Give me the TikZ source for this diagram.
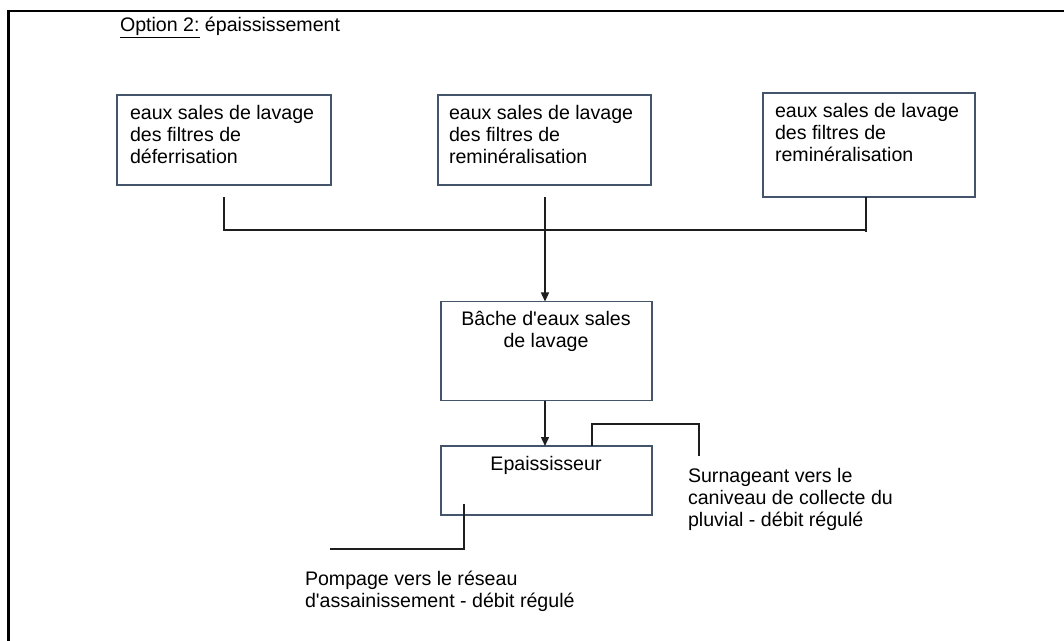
\documentclass[tikz,border=0pt]{standalone}
\usepackage{fontspec}
\setmainfont{Liberation Sans}[Ligatures=TeXOff]
\usetikzlibrary{arrows.meta}
\definecolor{boxline}{RGB}{68,84,106}
\definecolor{conn}{RGB}{30,30,30}
\begin{document}
\begin{tikzpicture}[x=1bp,y=-1bp,
  every node/.style={font=\fontsize{19.6bp}{22bp}\selectfont, inner sep=0pt, outer sep=0pt},
  procbox/.style={draw=boxline, line width=1.3bp, minimum width=#1, rectangle},
  label/.style={anchor=base west, align=left},
  ctext/.style={anchor=base, align=center},
  conline/.style={draw=conn, line width=1.4bp},
  arrowline/.style={conline, -{Triangle[length=9bp,width=8bp]}}]
\useasboundingbox (0,0) rectangle (1064,641);
\fill[white] (0,0) rectangle (1064,641);
% frame
\draw[line width=2.2bp] (8.5,645) -- (8.5,11) -- (1070,11);
% title
\node[label] (title) at (120,32) {\underline{Option 2:} épaississement};
% boxes
\node[procbox=214bp, minimum height=90bp] (b1) at (224,140) {};
\node[procbox=213bp, minimum height=90bp] (b2) at (544.5,140) {};
\node[procbox=212bp, minimum height=104bp] (b3) at (869,145) {};
\node[procbox=211bp, minimum height=99bp] (b4) at (546.5,351) {};
\node[procbox=211bp, minimum height=69bp] (b5) at (546.5,480.5) {};
% box texts (anchored at the baseline of the last line)
\node[label] (t1) at (130,164) {eaux sales de lavage\\des filtres de\\déferrisation};
\node[label] (t2) at (449,164) {eaux sales de lavage\\des filtres de\\reminéralisation};
\node[label] (t3) at (775,161.5) {eaux sales de lavage\\des filtres de\\reminéralisation};
\node[ctext] (t4) at (546,347) {Bâche d'eaux sales\\de lavage};
\node[ctext] (t5) at (546,470.5) {Epaississeur};
\node[label] (t6) at (688,526.5) {Surnageant vers le\\caniveau de collecte du\\pluvial - débit régulé};
\node[label] (t7) at (305,607) {Pompage vers le réseau\\d'assainissement - débit régulé};
% connector points
\coordinate (s1) at (224,197.5);
\coordinate (s2) at (545,197.5);
\coordinate (jl) at (224,230);
\coordinate (jr) at (866,230);
\coordinate (s3) at (866,232);
\coordinate (su1) at (592,424);
\coordinate (su2) at (699,424);
\coordinate (su3) at (699,456);
\coordinate (p1) at (464,504);
\coordinate (p2) at (464,549);
\coordinate (p3) at (330,549);
% connectors
\draw[conline] (s1) -- (jl) -- (jr);
\draw[conline] (b3.south -| jr) -- (s3);
\draw[arrowline] (s2) -- (s2 |- b4.north);
\draw[arrowline] (b4.south -| s2) -- (b5.north -| s2);
\draw[conline] (b5.north -| su1) -- (su1) -- (su2) -- (su3);
\draw[conline] (p1) -- (p2) -- (p3);
\end{tikzpicture}
\end{document}
